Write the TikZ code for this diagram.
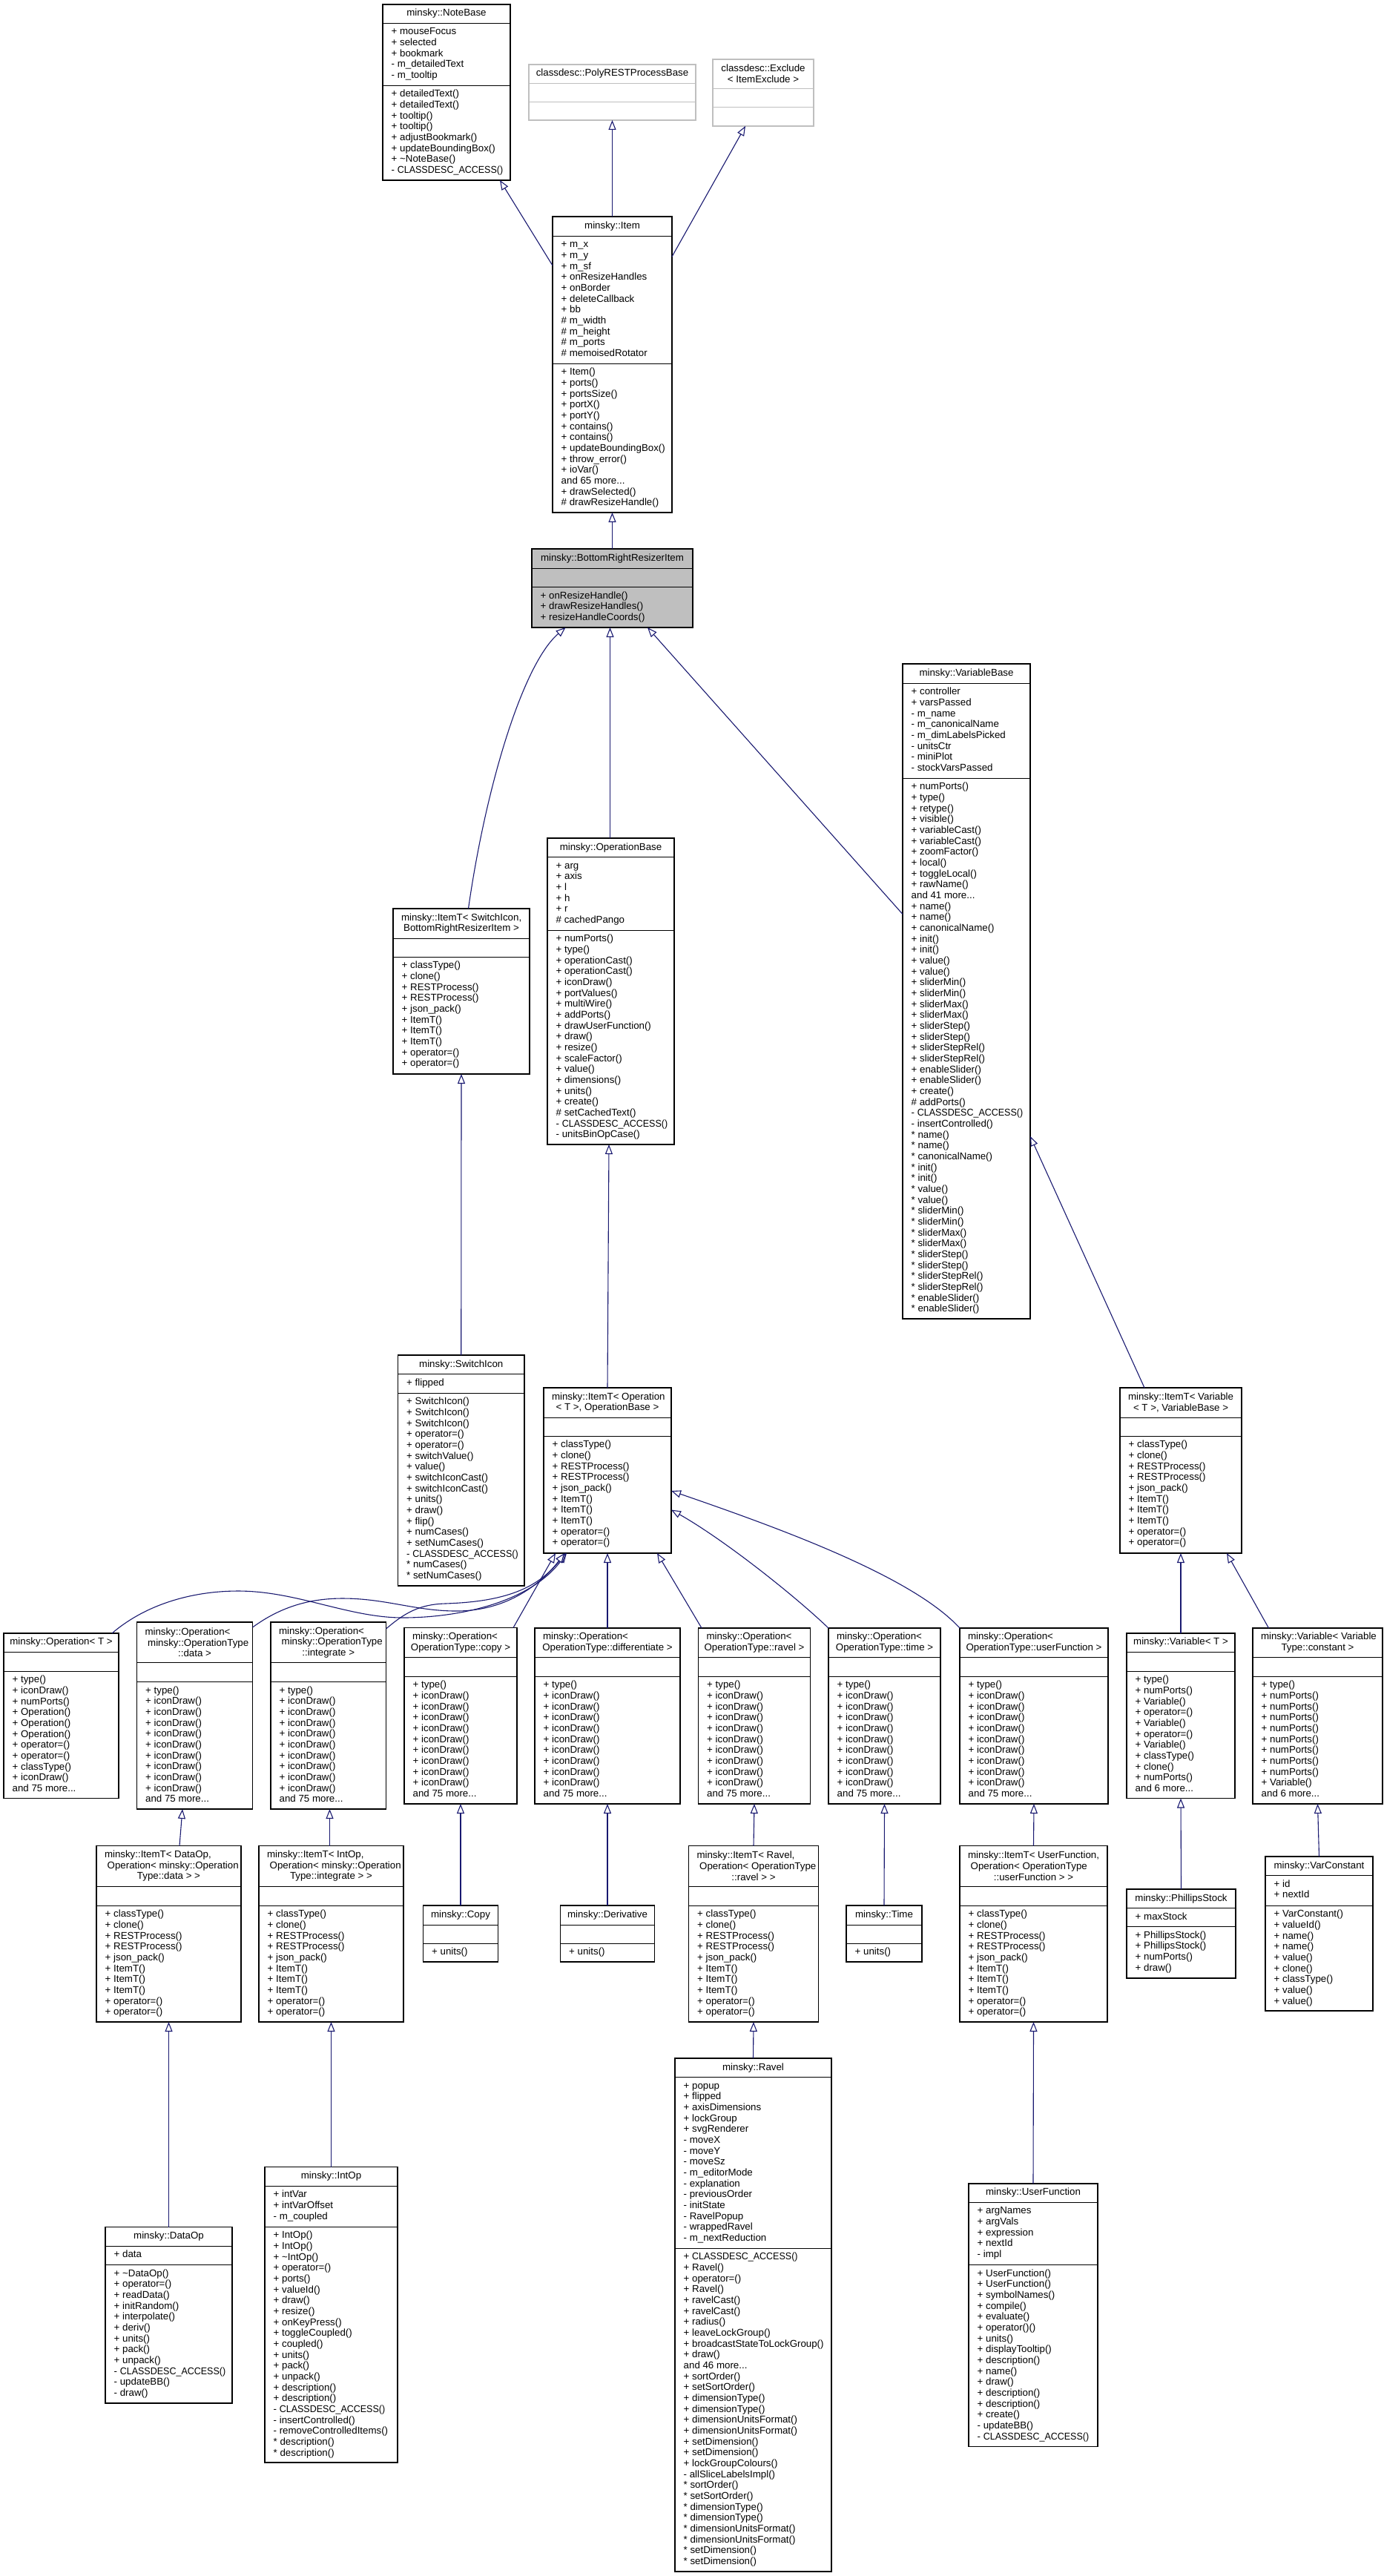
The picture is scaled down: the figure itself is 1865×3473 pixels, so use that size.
\documentclass[tikz,border=0pt]{standalone}
\usepackage{fontspec}
\usepackage{graphicx}
\setmainfont{Liberation Sans}
\usetikzlibrary{arrows.meta,fit}
\definecolor{edgeblue}{HTML}{191970}
\definecolor{ghostgray}{HTML}{BFBFBF}
\newlength{\titlew}
\newcommand{\tl}[1]{\makebox[\titlew][l]{#1}}
\newcommand{\cdaccess}{\scalebox{.94}[1]{CLASSDESC\_ACCESS()}}
\newcommand{\classbox}[2][]{\tikzset{boxlook/.style={#1}}\def\boxname{#2}\classgeom}
\def\classgeom(#1,#2)(#3,#4)(#5,#6)#7{%
    \def\boxL{#1}\def\boxR{#3}\def\boxA{#5}\def\boxM{#6}%
    \pgfmathsetlength{\titlew}{#3-#1-22}%
    \node[classnode,boxlook,fit={(#1,#2) (#3,#4)}] (\boxname) {};
    \draw[classline,boxlook] (#1,#5) -- (#3,#5);
    \draw[classline,boxlook] (#1,#6) -- (#3,#6);
    \node[titletext] (\boxname-t) at ({(#1+#3)/2},{(#2+#5)/2}) {#7};
}
\newcommand{\members}[2]{%
    \if\relax\detokenize{#1}\relax\else
    \node[membertext] (\boxname-a) at ({\boxL+11.5},{\boxA+3}) {\rule{0pt}{12.5pt}#1};
    \fi
    \node[membertext] (\boxname-m) at ({\boxL+11.5},{\boxM+3}) {\rule{0pt}{12.5pt}#2};
}
\newcommand{\itemtlist}{+ classType()\\+ clone()\\+ RESTProcess()\\+ RESTProcess()\\+ json\_pack()\\+ ItemT()\\+ ItemT()\\+ ItemT()\\+ operator=()\\+ operator=()}
\newcommand{\iconlist}{+ type()\\+ iconDraw()\\+ iconDraw()\\+ iconDraw()\\+ iconDraw()\\+ iconDraw()\\+ iconDraw()\\+ iconDraw()\\+ iconDraw()\\+ iconDraw()\\and 75 more...}
\begin{document}
\begin{tikzpicture}[x=1pt,y=-1pt]
    \tikzset{classnode/.style={draw=black,line width=1.1pt,inner sep=0pt,outer sep=0pt}}
    \tikzset{classline/.style={draw=black,line width=.9pt}}
    \tikzset{titletext/.style={font=\fontsize{13.3}{14.67}\selectfont,inner sep=0pt,align=center}}
    \tikzset{membertext/.style={font=\fontsize{13.3}{14.67}\selectfont,inner sep=0pt,anchor=north west,align=left}}
    \tikzset{ghost/.style={draw=ghostgray}}
    \tikzset{focus/.style={fill=ghostgray}}
    \tikzset{inherits/.style={draw=edgeblue,line width=1.1pt,-{Triangle[open,length=13pt,width=10pt,fill=white]}}}
    \useasboundingbox (0,0) rectangle (1865,3473);

    \classbox{notebase}(516,6)(688,243)(31,115){minsky::NoteBase}
    \members{+ mouseFocus\\+ selected\\+ bookmark\\- m\_detailedText\\- m\_tooltip}{+ detailedText()\\+ detailedText()\\+ tooltip()\\+ tooltip()\\+ adjustBookmark()\\+ updateBoundingBox()\\+ \textasciitilde NoteBase()\\- \cdaccess}
    \classbox[ghost]{polyrest}(713,87)(938,162)(112,137){classdesc::PolyRESTProcessBase}
    \classbox[ghost]{exclude}(961,80)(1097,170)(119,144){classdesc::Exclude\\< ItemExclude >}
    \classbox{item}(745,292)(906,691)(318,490){minsky::Item}
    \members{+ m\_x\\+ m\_y\\+ m\_sf\\+ onResizeHandles\\+ onBorder\\+ deleteCallback\\+ bb\\\# m\_width\\\# m\_height\\\# m\_ports\\\# memoisedRotator}{+ Item()\\+ ports()\\+ portsSize()\\+ portX()\\+ portY()\\+ contains()\\+ contains()\\+ updateBoundingBox()\\+ throw\_error()\\+ ioVar()\\and 65 more...\\+ drawSelected()\\\# drawResizeHandle()}
    \classbox[focus]{resizer}(717,740)(934,846)(766,791.5){minsky::BottomRightResizerItem}
    \members{}{+ onResizeHandle()\\+ drawResizeHandles()\\+ resizeHandleCoords()}

    \classbox{switchT}(530,1225)(714,1448)(1265,1290){\tl{minsky::ItemT< SwitchIcon,}\\BottomRightResizerItem >}
    \members{}{\itemtlist}
    \classbox{opbase}(738,1130)(909,1543)(1155.5,1254){minsky::OperationBase}
    \members{+ arg\\+ axis\\+ l\\+ h\\+ r\\\# cachedPango}{+ numPorts()\\+ type()\\+ operationCast()\\+ operationCast()\\+ iconDraw()\\+ portValues()\\+ multiWire()\\+ addPorts()\\+ drawUserFunction()\\+ draw()\\+ resize()\\+ scaleFactor()\\+ value()\\+ dimensions()\\+ units()\\+ create()\\\# setCachedText()\\- \cdaccess\\- unitsBinOpCase()}
    \classbox{varbase}(1217,895)(1389,1778)(921,1049){minsky::VariableBase}
    \members{+ controller\\+ varsPassed\\- m\_name\\- m\_canonicalName\\- m\_dimLabelsPicked\\- unitsCtr\\- miniPlot\\- stockVarsPassed}{+ numPorts()\\+ type()\\+ retype()\\+ visible()\\+ variableCast()\\+ variableCast()\\+ zoomFactor()\\+ local()\\+ toggleLocal()\\+ rawName()\\and 41 more...\\+ name()\\+ name()\\+ canonicalName()\\+ init()\\+ init()\\+ value()\\+ value()\\+ sliderMin()\\+ sliderMin()\\+ sliderMax()\\+ sliderMax()\\+ sliderStep()\\+ sliderStep()\\+ sliderStepRel()\\+ sliderStepRel()\\+ enableSlider()\\+ enableSlider()\\+ create()\\\# addPorts()\\- \cdaccess\\- insertControlled()\\* name()\\* name()\\* canonicalName()\\* init()\\* init()\\* value()\\* value()\\* sliderMin()\\* sliderMin()\\* sliderMax()\\* sliderMax()\\* sliderStep()\\* sliderStep()\\* sliderStepRel()\\* sliderStepRel()\\* enableSlider()\\* enableSlider()}
    \classbox{switchicon}(536.5,1827)(707,2138)(1852.5,1878){minsky::SwitchIcon}
    \members{+ flipped}{+ SwitchIcon()\\+ SwitchIcon()\\+ SwitchIcon()\\+ operator=()\\+ operator=()\\+ switchValue()\\+ value()\\+ switchIconCast()\\+ switchIconCast()\\+ units()\\+ draw()\\+ flip()\\+ numCases()\\+ setNumCases()\\- \cdaccess\\* numCases()\\* setNumCases()}
    \classbox{itemop}(733,1871)(905,2094)(1911,1936){\tl{minsky::ItemT< Operation}\\< T >, OperationBase >}
    \members{}{\itemtlist}
    \classbox{itemvar}(1510,1871)(1674,2094)(1911,1936){\tl{minsky::ItemT< Variable}\\< T >, VariableBase >}
    \members{}{\itemtlist}

    \classbox{optee}(5,2202)(160,2424.5)(2227,2253){minsky::Operation< T >}
    \members{}{+ type()\\+ iconDraw()\\+ numPorts()\\+ Operation()\\+ Operation()\\+ Operation()\\+ operator=()\\+ operator=()\\+ classType()\\+ iconDraw()\\and 75 more...}
    \classbox{opdata}(184.5,2187)(340.5,2439)(2241.5,2267.5){\tl{minsky::Operation<}\\\tl{\ minsky::OperationType}\\::data >}
    \members{}{\iconlist}
    \classbox{opint}(365,2187)(520.5,2439)(2241.5,2267.5){\tl{minsky::Operation<}\\\tl{\ minsky::OperationType}\\::integrate >}
    \members{}{\iconlist}
    \classbox{opcopy}(545,2194.5)(697,2432)(2234.5,2260){\tl{minsky::Operation<}\\OperationType::copy >}
    \members{}{\iconlist}
    \classbox{opdiff}(721,2195)(917,2432)(2234,2260){\tl{minsky::Operation<}\\OperationType::differentiate >}
    \members{}{\iconlist}
    \classbox{opravel}(941.5,2195)(1092.5,2432)(2234,2260){\tl{minsky::Operation<}\\OperationType::ravel >}
    \members{}{\iconlist}
    \classbox{optime}(1117,2195)(1268,2432)(2234,2260){\tl{minsky::Operation<}\\OperationType::time >}
    \members{}{\iconlist}
    \classbox{opfunc}(1294,2195)(1494,2432)(2234,2260){\tl{minsky::Operation<}\\OperationType::userFunction >}
    \members{}{\iconlist}
    \classbox{vartee}(1519,2202)(1665,2424.5)(2227,2253){minsky::Variable< T >}
    \members{}{+ type()\\+ numPorts()\\+ Variable()\\+ operator=()\\+ Variable()\\+ operator=()\\+ Variable()\\+ classType()\\+ clone()\\+ numPorts()\\and 6 more...}
    \classbox{varconst}(1689,2195)(1864,2432)(2234,2260){\tl{minsky::Variable< Variable}\\Type::constant >}
    \members{}{+ type()\\+ numPorts()\\+ numPorts()\\+ numPorts()\\+ numPorts()\\+ numPorts()\\+ numPorts()\\+ numPorts()\\+ numPorts()\\+ Variable()\\and 6 more...}

    \classbox{dataT}(130,2488.5)(325,2726)(2543,2569){\tl{minsky::ItemT< DataOp,}\\\tl{\ Operation< minsky::Operation}\\Type::data > >}
    \members{}{\itemtlist}
    \classbox{intT}(349,2488.5)(544,2726)(2543,2569){\tl{minsky::ItemT< IntOp,}\\\tl{\ Operation< minsky::Operation}\\Type::integrate > >}
    \members{}{\itemtlist}
    \classbox{copy}(570.5,2569)(671.5,2645)(2595,2620){minsky::Copy}
    \members{}{+ units()}
    \classbox{derivative}(755.5,2569)(882.5,2645)(2595,2620){minsky::Derivative}
    \members{}{+ units()}
    \classbox{ravelT}(928.5,2488.5)(1103.5,2726)(2543,2569){\tl{minsky::ItemT< Ravel,}\\\tl{\ Operation< OperationType}\\::ravel > >}
    \members{}{\itemtlist}
    \classbox{timeop}(1141,2569)(1243,2645)(2595,2620){minsky::Time}
    \members{}{+ units()}
    \classbox{funcT}(1294,2488.5)(1493,2726)(2543,2569){\tl{minsky::ItemT< UserFunction,}\\\tl{\ Operation< OperationType}\\::userFunction > >}
    \members{}{\itemtlist}
    \classbox{phillips}(1519,2547)(1666,2667)(2572.5,2597.5){minsky::PhillipsStock}
    \members{+ maxStock}{+ PhillipsStock()\\+ PhillipsStock()\\+ numPorts()\\+ draw()}
    \classbox{varconstant}(1706,2503)(1851,2711)(2528.5,2569){minsky::VarConstant}
    \members{+ id\\+ nextId}{+ VarConstant()\\+ valueId()\\+ name()\\+ name()\\+ value()\\+ clone()\\+ classType()\\+ value()\\+ value()}

    \classbox{dataop}(142,3002.5)(313,3240)(3028,3053.5){minsky::DataOp}
    \members{+ data}{+ \textasciitilde DataOp()\\+ operator=()\\+ readData()\\+ initRandom()\\+ interpolate()\\+ deriv()\\+ units()\\+ pack()\\+ unpack()\\- \cdaccess\\- updateBB()\\- draw()}
    \classbox{intop}(357,2921.5)(536,3320)(2947,3002){minsky::IntOp}
    \members{+ intVar\\+ intVarOffset\\- m\_coupled}{+ IntOp()\\+ IntOp()\\+ \textasciitilde IntOp()\\+ operator=()\\+ ports()\\+ valueId()\\+ draw()\\+ resize()\\+ onKeyPress()\\+ toggleCoupled()\\+ coupled()\\+ units()\\+ pack()\\+ unpack()\\+ description()\\+ description()\\- \cdaccess\\- insertControlled()\\- removeControlledItems()\\* description()\\* description()}
    \classbox{ravel}(910,2775)(1121,3467)(2800.5,3031){minsky::Ravel}
    \members{+ popup\\+ flipped\\+ axisDimensions\\+ lockGroup\\+ svgRenderer\\- moveX\\- moveY\\- moveSz\\- m\_editorMode\\- explanation\\- previousOrder\\- initState\\- RavelPopup\\- wrappedRavel\\- m\_nextReduction}{+ \cdaccess\\+ Ravel()\\+ operator=()\\+ Ravel()\\+ ravelCast()\\+ ravelCast()\\+ radius()\\+ leaveLockGroup()\\+ broadcastStateToLockGroup()\\+ draw()\\and 46 more...\\+ sortOrder()\\+ setSortOrder()\\+ dimensionType()\\+ dimensionType()\\+ dimensionUnitsFormat()\\+ dimensionUnitsFormat()\\+ setDimension()\\+ setDimension()\\+ lockGroupColours()\\- allSliceLabelsImpl()\\* sortOrder()\\* setSortOrder()\\* dimensionType()\\* dimensionType()\\* dimensionUnitsFormat()\\* dimensionUnitsFormat()\\* setDimension()\\* setDimension()}
    \classbox{userfunc}(1306,2944)(1480,3298.5)(2969,3053.5){minsky::UserFunction}
    \members{+ argNames\\+ argVals\\+ expression\\+ nextId\\- impl}{+ UserFunction()\\+ UserFunction()\\+ symbolNames()\\+ compile()\\+ evaluate()\\+ operator()()\\+ units()\\+ displayTooltip()\\+ description()\\+ name()\\+ draw()\\+ description()\\+ description()\\+ create()\\- updateBB()\\- \cdaccess}

    \draw[inherits] ([yshift=-66pt]item.north west) -- ([xshift=72pt]notebase.south);
    \draw[inherits] (item.north) -- (polyrest.south);
    \draw[inherits] ([yshift=-54pt]item.north east) -- ([xshift=-24pt]exclude.south);
    \draw[inherits] (resizer.north) -- (item.south);
    \draw[inherits] ([xshift=9.5pt]switchT.north) .. controls (655,1060) and (705,895) .. ([xshift=-63pt]resizer.south);
    \draw[inherits] ([xshift=-1pt]opbase.north) -- ([xshift=-3pt]resizer.south);
    \draw[inherits] ([yshift=-337.5pt]varbase.north west) -- ([xshift=47.5pt]resizer.south);
    \draw[inherits] (switchicon.north) -- (switchT.south);
    \draw[inherits] (itemop.north) -- ([xshift=-2.5pt]opbase.south);
    \draw[inherits] ([xshift=-49pt]itemvar.north) -- ([yshift=-637pt]varbase.north east);

    \draw[inherits] ([xshift=68.5pt]optee.north) .. controls (200,2160) and (265,2145) .. (321,2145) .. controls (400,2145) and (470,2181) .. (543,2181) .. controls (620,2181) and (715,2160) .. ([xshift=-55pt]itemop.south);
    \draw[inherits] ([yshift=-7pt]opdata.north east) .. controls (380,2165) and (420,2155) .. (462,2155) .. controls (520,2155) and (560,2172) .. (615,2172) .. controls (680,2172) and (725,2140) .. ([xshift=-56pt]itemop.south);
    \draw[inherits] ([yshift=-9pt]opint.north east) .. controls (545,2175) and (565,2163) .. (600,2162) .. controls (660,2160) and (720,2150) .. ([xshift=-58pt]itemop.south);
    \draw[inherits] ([xshift=71pt]opcopy.north) -- ([xshift=-70pt]itemop.south);
    \draw[inherits] (opdiff.north) -- (itemop.south);
    \draw[inherits] ([xshift=-71pt]opravel.north) -- ([xshift=67pt]itemop.south);
    \draw[inherits] (optime.north west) .. controls (1070,2150) and (975,2075) .. ([yshift=-53pt]itemop.east);
    \draw[inherits] (opfunc.north west) .. controls (1230,2125) and (1050,2060) .. ([yshift=-27.5pt]itemop.east);
    \draw[inherits] (vartee.north) -- (itemvar.south);
    \draw[inherits] ([xshift=-66pt]varconst.north) -- ([xshift=62pt]itemvar.south);

    \draw[inherits] ([xshift=14.5pt]dataT.north) -- ([xshift=-16.5pt]opdata.south);
    \draw[inherits] ([xshift=-2pt]intT.north) -- ([xshift=1.75pt]opint.south);
    \draw[inherits] (copy.north) -- (opcopy.south);
    \draw[inherits] (derivative.north) -- (opdiff.south);
    \draw[inherits] (ravelT.north) -- (opravel.south);
    \draw[inherits] (timeop.north) -- (optime.south);
    \draw[inherits] (funcT.north) -- (opfunc.south);
    \draw[inherits] (phillips.north) -- (vartee.south);
    \draw[inherits] (varconstant.north) -- (varconst.south);
    \draw[inherits] (dataop.north) -- (dataT.south);
    \draw[inherits] (intop.north) -- (intT.south);
    \draw[inherits] (ravel.north) -- (ravelT.south);
    \draw[inherits] (userfunc.north) -- (funcT.south);
\end{tikzpicture}
\end{document}
